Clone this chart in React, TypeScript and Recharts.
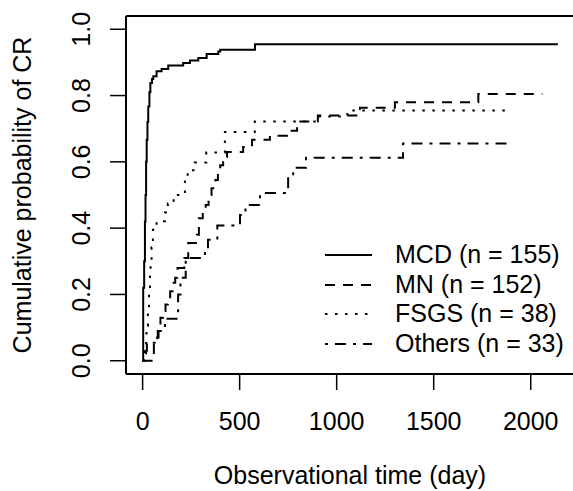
import React from 'react';
import { LineChart, Line, XAxis, YAxis, ReferenceLine, Legend } from 'recharts';

type Pt = { t: number; p: number };

// cumulative probability of CR (t in days)
const mcd: Pt[] = [
  { t: 0, p: 0 }, { t: 3, p: 0.22 }, { t: 8, p: 0.3 }, { t: 12, p: 0.42 }, { t: 15, p: 0.5 },
  { t: 18, p: 0.6 }, { t: 21, p: 0.667 }, { t: 25, p: 0.72 }, { t: 29, p: 0.767 }, { t: 35, p: 0.81 },
  { t: 40, p: 0.838 }, { t: 48, p: 0.85 }, { t: 55, p: 0.858 }, { t: 72, p: 0.873 }, { t: 98, p: 0.88 },
  { t: 132, p: 0.891 }, { t: 209, p: 0.898 }, { t: 244, p: 0.906 }, { t: 287, p: 0.913 },
  { t: 330, p: 0.925 }, { t: 390, p: 0.933 }, { t: 400, p: 0.938 }, { t: 579, p: 0.955 }, { t: 2140, p: 0.955 },
];

const mn: Pt[] = [
  { t: 0, p: 0 }, { t: 55, p: 0.02 }, { t: 58, p: 0.055 }, { t: 75, p: 0.07 }, { t: 82, p: 0.1 },
  { t: 92, p: 0.13 }, { t: 105, p: 0.15 }, { t: 118, p: 0.17 }, { t: 130, p: 0.18 }, { t: 142, p: 0.21 },
  { t: 155, p: 0.235 }, { t: 168, p: 0.25 }, { t: 180, p: 0.28 }, { t: 215, p: 0.31 }, { t: 235, p: 0.355 },
  { t: 280, p: 0.38 }, { t: 290, p: 0.43 }, { t: 310, p: 0.45 }, { t: 325, p: 0.47 }, { t: 340, p: 0.5 },
  { t: 355, p: 0.52 }, { t: 375, p: 0.545 }, { t: 388, p: 0.57 }, { t: 400, p: 0.59 }, { t: 415, p: 0.615 },
  { t: 435, p: 0.63 }, { t: 518, p: 0.645 }, { t: 564, p: 0.667 }, { t: 656, p: 0.679 }, { t: 744, p: 0.694 },
  { t: 796, p: 0.722 }, { t: 903, p: 0.74 }, { t: 1120, p: 0.763 }, { t: 1300, p: 0.78 }, { t: 1730, p: 0.805 },
  { t: 2060, p: 0.805 },
];

const fsgs: Pt[] = [
  { t: 0, p: 0 }, { t: 5, p: 0.026 }, { t: 10, p: 0.053 }, { t: 20, p: 0.105 }, { t: 27, p: 0.158 },
  { t: 33, p: 0.211 }, { t: 38, p: 0.263 }, { t: 41, p: 0.289 }, { t: 46, p: 0.342 }, { t: 53, p: 0.395 },
  { t: 72, p: 0.421 }, { t: 115, p: 0.447 }, { t: 130, p: 0.474 }, { t: 160, p: 0.5 }, { t: 218, p: 0.55 },
  { t: 232, p: 0.575 }, { t: 268, p: 0.598 }, { t: 328, p: 0.628 }, { t: 424, p: 0.69 }, { t: 578, p: 0.722 },
  { t: 903, p: 0.737 }, { t: 1055, p: 0.755 }, { t: 1893, p: 0.755 },
];

const others: Pt[] = [
  { t: 0, p: 0 }, { t: 18, p: 0.03 }, { t: 22, p: 0.054 }, { t: 78, p: 0.09 }, { t: 115, p: 0.127 },
  { t: 183, p: 0.2 }, { t: 195, p: 0.25 }, { t: 222, p: 0.31 }, { t: 321, p: 0.33 }, { t: 337, p: 0.365 },
  { t: 385, p: 0.408 }, { t: 502, p: 0.44 }, { t: 530, p: 0.47 }, { t: 605, p: 0.506 }, { t: 750, p: 0.555 },
  { t: 776, p: 0.582 }, { t: 842, p: 0.612 }, { t: 1342, p: 0.655 }, { t: 1893, p: 0.655 },
];

const xTicks = [0, 500, 1000, 1500, 2000];
const yTicks = [0, 0.2, 0.4, 0.6, 0.8, 1.0];

const series = [
  { name: 'MCD (n = 155)', data: mcd, dash: undefined as string | undefined },
  { name: 'MN (n = 152)', data: mn, dash: '10 8' },
  { name: 'FSGS (n = 38)', data: fsgs, dash: '2.5 7.5' },
  { name: 'Others (n = 33)', data: others, dash: '3 7 11 7' },
];

const FONT = '"Liberation Sans", Arial, sans-serif';
const FS = 25;
const X_MAX = 2140;
const X_DOMAIN: [number, number] = [-0.04 * X_MAX, 1.04 * X_MAX];
const Y_DOMAIN: [number, number] = [-0.04, 1.04];

const XTick = (props: any) => (
  <text x={props.x} y={429.5} textAnchor="middle" fontSize={FS} fontFamily={FONT} fill="#000">
    {props.payload.value}
  </text>
);

const YTick = (props: any) => (
  <text
    x={90.5}
    y={props.y}
    transform={`rotate(-90, 90.5, ${props.y})`}
    textAnchor="middle"
    fontSize={FS}
    fontFamily={FONT}
    fill="#000"
  >
    {Number(props.payload.value).toFixed(1)}
  </text>
);

const YTitle = () => (
  <text x={30.5} y={195} transform="rotate(-90, 30.5, 195)" textAnchor="middle" fontSize={FS} fontFamily={FONT} fill="#000">
    Cumulative probability of CR
  </text>
);

const XTitle = () => (
  <text x={350} y={484} textAnchor="middle" fontSize={FS} fontFamily={FONT} fill="#000">
    Observational time (day)
  </text>
);

const LegendBox = () => (
  <div style={{ fontFamily: FONT, fontSize: FS, color: '#000' }}>
    {series.map((s) => (
      <div key={s.name} style={{ display: 'flex', alignItems: 'center', height: 29.7, lineHeight: '29.7px' }}>
        <svg width={47} height={10} style={{ display: 'block' }}>
          <line x1={0} y1={5} x2={47} y2={5} stroke="#000" strokeWidth={2} strokeDasharray={s.dash} />
        </svg>
        <span style={{ marginLeft: 23, whiteSpace: 'nowrap' }}>{s.name}</span>
      </div>
    ))}
  </div>
);

export default function App() {
  return (
    <div style={{ position: 'absolute', left: 0, top: 0, width: 573, height: 491, overflow: 'hidden', background: '#fff' }}>
      <LineChart width={600} height={491} margin={{ top: 16, right: 25.5, bottom: 0, left: 0 }}>
        <XAxis
          dataKey="t"
          type="number"
          domain={X_DOMAIN}
          ticks={xTicks}
          allowDataOverflow
          height={117}
          tickSize={16}
          tickLine={{ stroke: '#000', strokeWidth: 1.5 }}
          axisLine={{ stroke: '#000', strokeWidth: 2 }}
          tick={<XTick />}
          label={<XTitle />}
        />
        <YAxis
          type="number"
          domain={Y_DOMAIN}
          ticks={yTicks}
          allowDataOverflow
          width={126}
          tickSize={16}
          tickLine={{ stroke: '#000', strokeWidth: 1.5 }}
          axisLine={{ stroke: '#000', strokeWidth: 2 }}
          tick={<YTick />}
          label={<YTitle />}
        />
        <ReferenceLine y={Y_DOMAIN[1]} stroke="#000" strokeWidth={2} ifOverflow="visible" />
        {series.map((s) => (
          <Line
            key={s.name}
            data={s.data}
            dataKey="p"
            name={s.name}
            type="stepAfter"
            stroke="#000"
            strokeWidth={2}
            strokeDasharray={s.dash}
            dot={false}
            activeDot={false}
            isAnimationActive={false}
          />
        ))}
        <Legend
          layout="vertical"
          align="center"
          verticalAlign="middle"
          content={<LegendBox />}
          wrapperStyle={{ position: 'absolute', left: 325, top: 240, width: 260, height: 120 }}
        />
      </LineChart>
    </div>
  );
}
